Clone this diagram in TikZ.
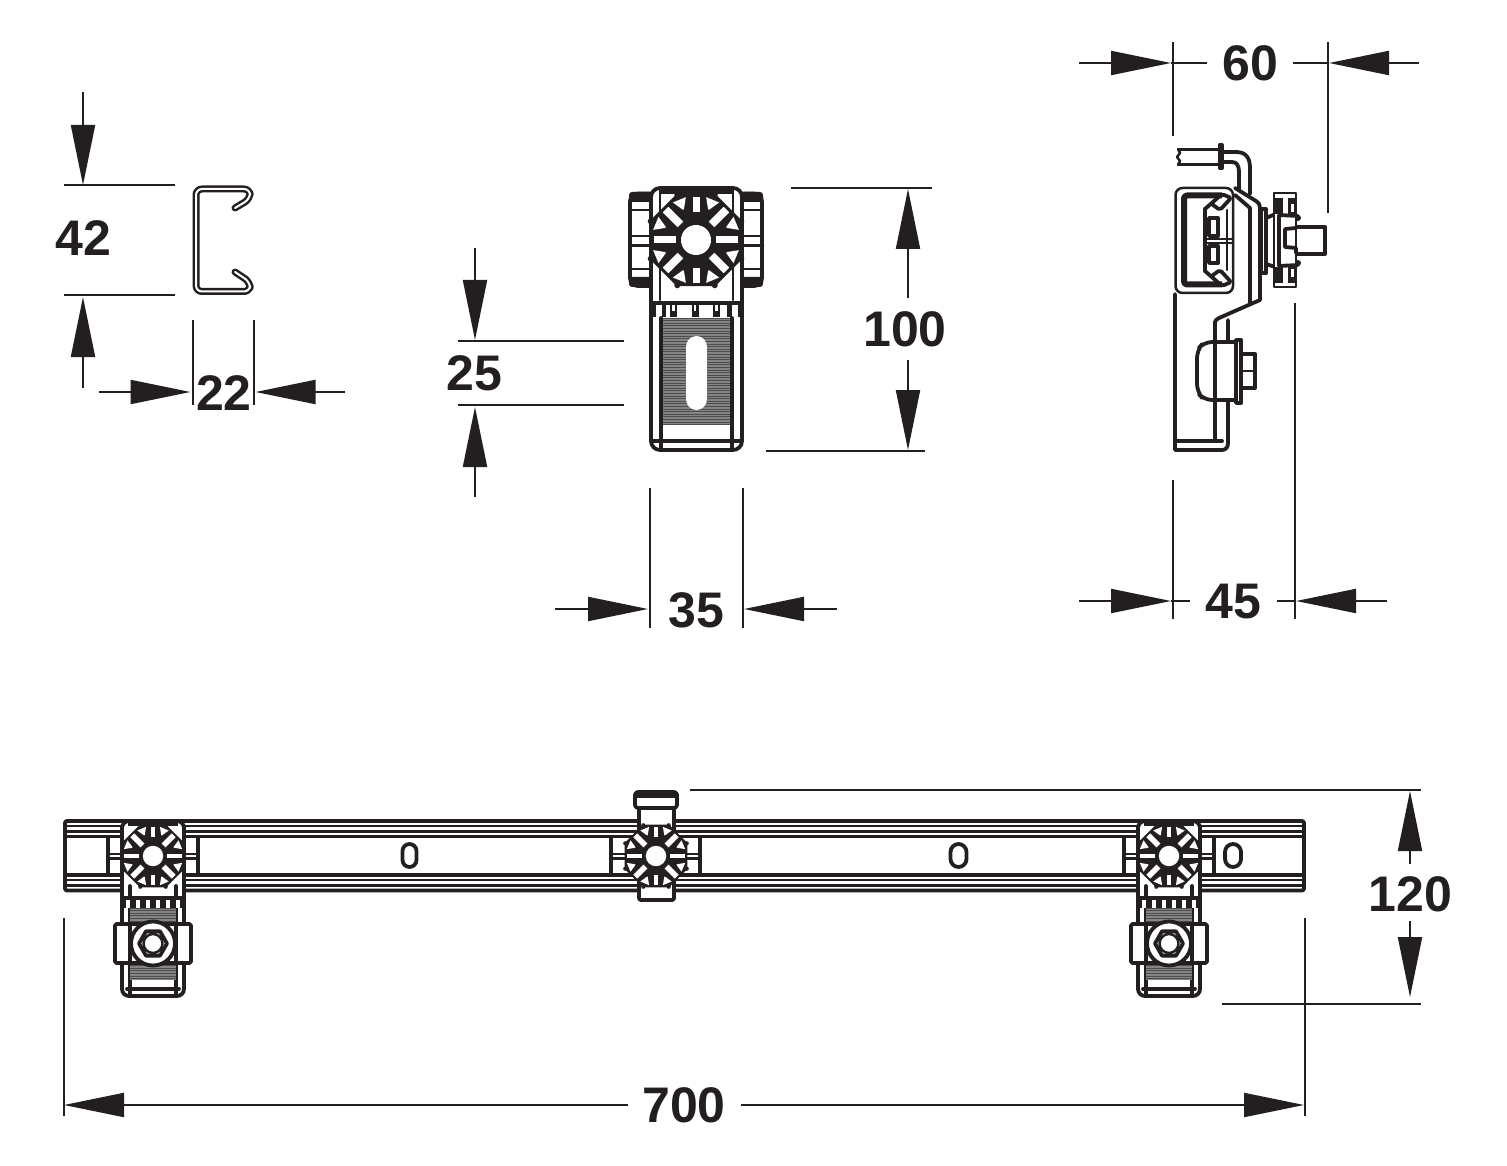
\documentclass[tikz,border=0pt]{standalone}
\usepackage{fontspec}
\setmainfont{Liberation Sans}
\usetikzlibrary{arrows.meta,positioning}
\definecolor{inkblack}{HTML}{231F20}
\definecolor{ribgray}{HTML}{858585}
\tikzset{
  part/.style={draw=inkblack,line width=3.8pt,line join=round,line cap=round},
  partthin/.style={draw=inkblack,line width=2.5pt,line join=round,line cap=round},
  partwide/.style={draw=inkblack,line width=6pt,line join=round},
  extline/.style={draw=inkblack,line width=2pt},
  dimline/.style={draw=inkblack,line width=2pt},
  dimarrow/.style={draw=inkblack,line width=2pt,-{Triangle[length=60pt,width=24pt]}},
  dimlabel/.style={inner sep=0pt,text=inkblack,font=\bfseries\fontsize{50}{50}\selectfont}
}
% octagonal hand wheel, #3 = size relative to the front view
\newcommand{\handwheel}[3]{
  \begin{scope}[shift={(#1,#2)},scale=#3]
    \fill[inkblack] (22.5:50) -- (67.5:50) -- (112.5:50) -- (157.5:50) -- (202.5:50) -- (247.5:50) -- (292.5:50) -- (337.5:50) -- cycle;
    \foreach \ang in {22.5,67.5,...,337.5}
      \fill[inkblack] (\ang:49) circle (3);
    % spokes and the windows between them
    \foreach \ang in {45,135,225,315}
      \fill[white,rotate=\ang] (22,-4) rectangle (43,4);
    \foreach \ang in {0,180}
      \fill[white,rotate=\ang] (20,-3.5) rectangle (42,3.5);
    \foreach \ang in {90,270}
      \fill[white,rotate=\ang] (28,-3.5) rectangle (43,3.5);
    \foreach \ang in {22.5,67.5,...,337.5}
      \fill[white,rotate=\ang] (33,-.6) -- (43.5,-7) -- (43.5,7) -- (33,.6) -- cycle;
    \fill[white] (0,0) circle (15);
  \end{scope}
}
% ribbed plate behind the slot or the bolt
\newcommand{\ribs}[4]{
  \fill[ribgray] (#1,#2) rectangle (#3,#4);
  \pgfmathsetmacro{\nextrib}{#2+2.6}
  \foreach \yy in {#2,\nextrib,...,#4}
    \draw[inkblack!80,line width=.7pt] (#1,\yy) -- (#3,\yy);
}
% clamp with bolt seen on the rail, #1 = axis
\newcommand{\railclamp}[1]{
  \begin{scope}[shift={(#1,0)}]
    \draw[part] (-45,837) -- (-45,874) (45,837) -- (45,874);
    \draw[partthin] (-45,854) -- (45,854) (-45,858.5) -- (45,858.5);
    \draw[part,fill=white,rounded corners=7pt] (-31,821) -- (31,821) -- (31,996) -- (-31,996) -- cycle;
    \draw[partwide] (-25,823) -- (25,823);
    \draw[part] (-23,886) -- (-23,996) (23,886) -- (23,996) (-26,989) -- (26,989);
    \ribs{-23}{908}{23}{923}
    \ribs{-23}{963}{23}{980}
    \fill[inkblack] (-31,896) rectangle (31,908);
    \foreach \xx in {-25,-15,-5,5,15,25}
      \fill[white] (\xx-2.2,899.5) rectangle (\xx+2.2,908);
    \draw[part,fill=white,rounded corners=1.5pt] (-38,924) rectangle (38,963);
    \draw[part] (-23,924) -- (-23,963) (23,924) -- (23,963);
    \draw[part,fill=white] (0,943.5) circle (22);
    \draw[part,fill=white] (14,943.5) -- ++(120:14) -- ++(180:14) -- ++(240:14) -- ++(300:14) -- ++(0:14) -- cycle;
    \draw[partthin] (0,943.5) circle (9.5);
  \end{scope}
  \handwheel{#1}{856}{.68}
}
\begin{document}
\begin{tikzpicture}[x=1pt,y=-1pt]
  \useasboundingbox (0,0) rectangle (1507,1166);

  % channel section
  \draw[draw=inkblack,line width=2.5pt,double=white,double distance=2pt,rounded corners=6pt,line join=round,line cap=round]
    (235,208) -- (250,199) -- (250,189) -- (196,189) -- (196,291.5) -- (250,291.5) -- (250,282) -- (235,272);

  % front view, wings and body
  \draw[part,fill=white,rounded corners=8pt] (630,193.5) rectangle (762,286);
  \fill[inkblack,rounded corners=3pt] (629,192) rectangle (652,202);
  \fill[inkblack,rounded corners=3pt] (741,192) rectangle (763,202);
  \fill[inkblack,rounded corners=3pt] (629,277) rectangle (652,287);
  \fill[inkblack,rounded corners=3pt] (741,277) rectangle (763,287);
  \draw[partthin] (632,210) -- (652,210) (741,210) -- (760,210) (632,269) -- (652,269) (741,269) -- (760,269);
  \draw[partthin] (629,236) -- (763,236) (629,245.5) -- (763,245.5);
  \draw[part,fill=white,rounded corners=9pt] (651,188) -- (742,188) -- (742,450) -- (651,450) -- cycle;
  \draw[partwide] (660,191) -- (733,191);
  \draw[partthin] (660,188) -- (660,300) (733,188) -- (733,300);
  \ribs{662}{318}{732}{425}
  \fill[white] (686,347) rectangle (707,400);
  \fill[white] (696.5,347) ellipse (10.5 and 11);
  \fill[white] (696.5,399) ellipse (10.5 and 11);
  \draw[part] (661,318) -- (661,450) (732,318) -- (732,450) (652,441) -- (741,441);
  \fill[inkblack] (651,301) rectangle (742,305);
  \foreach \xx/\ww in {653.5/2,663.5/2,673.5/3.5,695/3.5,716.5/3.5,729.5/2.5,740/2}
    \fill[inkblack] (\xx-\ww,301) rectangle (\xx+\ww,317);
  \foreach \xx in {673.5,695,716.5}
    \fill[white] (\xx-1.3,305) rectangle (\xx+1.3,311);
  \handwheel{696}{240}{1}

  % side view, tube
  \draw[part] (1179,149.5) -- (1218,149.5) (1218,164.5) -- (1179,164.5);
  \draw[partthin] (1178,149) -- (1180,153) -- (1177,157) -- (1180,161) -- (1178,165);
  \draw[part,fill=white] (1219.5,145) -- (1222,145) -- (1222,168) -- (1219.5,168) -- cycle;
  \draw[part] (1223,152) -- (1236,152) .. controls (1246,152) and (1250,158) .. (1250,168) -- (1250,194);
  \draw[part] (1223,162) -- (1232,162) .. controls (1237,162) and (1239,166) .. (1239,172) -- (1239,190);

  % side view, plate and rail
  \draw[part] (1175,294) -- (1175,450) -- (1222,450) .. controls (1226,450) and (1228,447) .. (1228,443) -- (1228,320);
  \draw[part] (1176,441) -- (1222,441) (1215,322) -- (1215,441);
  \draw[part] (1235,188) -- (1256,201) .. controls (1259,203) and (1260,205) .. (1260,208) -- (1260,300) -- (1219,318) .. controls (1216,319) and (1215,321) .. (1215,323);
  \draw[part] (1235,195) -- (1250,208) -- (1250,303);
  \draw[partthin,fill=white,rounded corners=7pt] (1175.5,188) -- (1233,188) -- (1233,293) -- (1175.5,293) -- cycle;
  \draw[partwide,rounded corners=3pt] (1222,195.5) -- (1184,195.5) -- (1184,284.5) -- (1222,284.5);
  \draw[part,rounded corners=2pt] (1205,209) -- (1222,194) -- (1231,198) -- (1220,210) -- (1213,205);
  \draw[part,rounded corners=2pt] (1205,271) -- (1222,286) -- (1231,282) -- (1220,270) -- (1213,275);
  \draw[part] (1205,209) -- (1205,271);
  \draw[part] (1209,218) rectangle (1218,236) (1209,246) rectangle (1218,263);
  \draw[partthin] (1227,210) -- (1227,270) (1233,210) -- (1233,270) (1207,239) -- (1233,239) (1207,243) -- (1233,243);

  % side view, bolt
  \draw[part,fill=white,rounded corners=8pt] (1238,342) -- (1204,342) -- (1197,350) -- (1197,392) -- (1204,400) -- (1238,400);
  \draw[part] (1215,342) -- (1215,400);
  \draw[part,fill=white] (1236,340) rectangle (1241,403);
  \draw[part,fill=white] (1241,354) rectangle (1255,388);
  \draw[partthin] (1241,371) -- (1255,371);

  % side view, hand wheel and stem
  \draw[part,fill=white] (1261,209) rectangle (1266,273);
  \draw[part,fill=white] (1266,218) -- (1278,213) -- (1278,268) -- (1266,264) -- cycle;
  \draw[part,fill=white] (1295,227) rectangle (1325,254);
  \draw[partthin,fill=white] (1274,193) rectangle (1296,287);
  \fill[inkblack] (1274,198) rectangle (1283,214);
  \fill[inkblack] (1288,198) rectangle (1297,214);
  \fill[inkblack] (1274,267) rectangle (1283,283);
  \fill[inkblack] (1288,267) rectangle (1297,283);
  \fill[white] (1290.5,204) rectangle (1294,212);
  \fill[white] (1290.5,269) rectangle (1294,277);
  \draw[part] (1279,215) -- (1298,216) (1279,266) -- (1298,265) (1279,215) -- (1279,266);
  \fill[inkblack] (1298,218) circle (3) (1298,263) circle (3);
  \draw[part] (1296,228) -- (1285,229) -- (1285,247) -- (1296,248) -- (1296,253);

  % rail
  \draw[part,fill=white,rounded corners=2pt] (65,821) rectangle (1304,890.5);
  \draw[part] (65,836.5) -- (1304,836.5) (65,875) -- (1304,875);
  \draw[partthin] (65,826) -- (1304,826) (65,831.5) -- (1304,831.5) (65,880) -- (1304,880) (65,885.5) -- (1304,885.5);
  \foreach \xx/\ww in {409.5/7,958.5/8,1233/8}
    \draw[part,rounded corners=\ww pt] (\xx-\ww,844) rectangle (\xx+\ww,867);

  % middle clamp
  \draw[part] (611,837) -- (611,874) (700,837) -- (700,874);
  \draw[partthin] (611,854) -- (700,854) (611,858.5) -- (700,858.5);
  \draw[part,fill=white,rounded corners=2pt] (639,795) -- (639,900) -- (674,900) -- (674,795);
  \draw[part,fill=white,rounded corners=3pt] (635,792) rectangle (677,808);
  \fill[inkblack] (635,791) rectangle (677,798);
  \handwheel{656}{856}{.68}

  \railclamp{153}
  \railclamp{1169}

  % dimension 42 and 22
  \coordinate (h42a) at (83,92);
  \coordinate (h42b) at (83,185);
  \coordinate (h42c) at (83,388);
  \coordinate (h42d) at (83,297);
  \coordinate (w22a) at (99,392);
  \coordinate (w22b) at (190.5,392);
  \coordinate (w22c) at (345,392);
  \coordinate (w22d) at (255.5,392);
  \draw[extline] (64,185) -- (175,185) (64,295.5) -- (175,295.5) (192.5,320) -- (192.5,405) (254,320) -- (254,405);
  \draw[dimarrow] (h42a) -- (h42b);
  \draw[dimarrow] (h42c) -- (h42d);
  \draw[dimarrow] (w22a) -- (w22b);
  \draw[dimarrow] (w22c) -- (w22d);
  \node[dimlabel] (lab42) at (83.5,238) {42};
  \node[dimlabel] (lab22) at (224,393) {22};

  % dimension 100, 25 and 35
  \coordinate (h100a) at (908,298);
  \coordinate (h100b) at (908,189);
  \coordinate (h100c) at (908,360);
  \coordinate (h100d) at (908,450);
  \coordinate (h25a) at (475,248);
  \coordinate (h25b) at (475,340);
  \coordinate (h25c) at (475,497);
  \coordinate (h25d) at (475,407);
  \coordinate (w35a) at (555,609);
  \coordinate (w35b) at (648,609);
  \coordinate (w35c) at (837,609);
  \coordinate (w35d) at (744,609);
  \draw[extline] (791,188) -- (932,188) (766,451) -- (925,451) (458,341) -- (624,341) (458,405) -- (624,405) (649.5,488) -- (649.5,628) (742.5,488) -- (742.5,628);
  \draw[dimarrow] (h100a) -- (h100b);
  \draw[dimarrow] (h100c) -- (h100d);
  \draw[dimarrow] (h25a) -- (h25b);
  \draw[dimarrow] (h25c) -- (h25d);
  \draw[dimarrow] (w35a) -- (w35b);
  \draw[dimarrow] (w35c) -- (w35d);
  \node[dimlabel] (lab100) at (905,329.5) {100};
  \node[dimlabel] (lab25) at (474.5,373.5) {25};
  \node[dimlabel] (lab35) at (696.5,610.5) {35};

  % dimension 60 and 45
  \coordinate (w60a) at (1079,63);
  \coordinate (w60b) at (1171,63);
  \coordinate (w60c) at (1419,63);
  \coordinate (w60d) at (1329,63);
  \coordinate (w45a) at (1079,601);
  \coordinate (w45b) at (1171,601);
  \coordinate (w45c) at (1387,601);
  \coordinate (w45d) at (1296,601);
  \draw[extline] (1172.5,42) -- (1172.5,136) (1328,42) -- (1328,213) (1172.5,480) -- (1172.5,619) (1294.5,303) -- (1294.5,619);
  \draw[dimline] (w60b) -- (1207,63) (1293,63) -- (w60d) (w45b) -- (1190,601) (1277,601) -- (w45d);
  \draw[dimarrow] (w60a) -- (w60b);
  \draw[dimarrow] (w60c) -- (w60d);
  \draw[dimarrow] (w45a) -- (w45b);
  \draw[dimarrow] (w45c) -- (w45d);
  \node[dimlabel] (lab60) at (1250,63.5) {60};
  \node[dimlabel] (lab45) at (1233,601.5) {45};

  % dimension 120 and 700
  \coordinate (h120a) at (1410,864);
  \coordinate (h120b) at (1410,791);
  \coordinate (h120c) at (1410,921);
  \coordinate (h120d) at (1410,997);
  \coordinate (w700a) at (628,1105);
  \coordinate (w700b) at (64,1105);
  \coordinate (w700c) at (741,1105);
  \coordinate (w700d) at (1304,1105);
  \draw[extline] (690,790) -- (1421,790) (1222,1003.5) -- (1421,1003.5) (63.5,918) -- (63.5,1116) (1305,918) -- (1305,1116);
  \draw[dimarrow] (h120a) -- (h120b);
  \draw[dimarrow] (h120c) -- (h120d);
  \draw[dimarrow] (w700a) -- (w700b);
  \draw[dimarrow] (w700c) -- (w700d);
  \node[dimlabel] (lab120) at (1410.5,894) {120};
  \node[dimlabel] (lab700) at (684,1105) {700};
\end{tikzpicture}
\end{document}
